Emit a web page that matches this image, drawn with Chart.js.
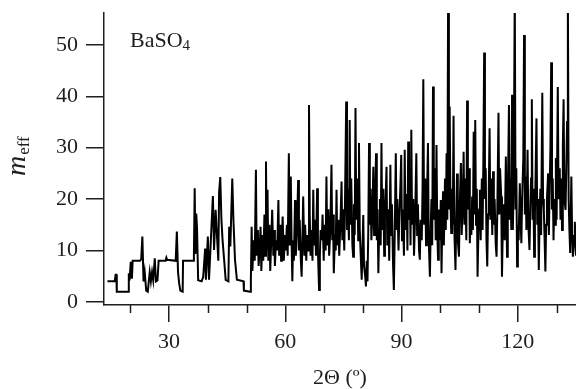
<!DOCTYPE html>
<html>
<head>
<meta charset="utf-8">
<script src="https://cdn.jsdelivr.net/npm/chart.js@4/dist/chart.umd.min.js"></script>
<style>
  html, body { margin: 0; padding: 0; background: #fff; }
  canvas { display: block; }
</style>
</head>
<body>
<canvas id="chart" width="576" height="389"></canvas>
<script>
// low-angle part of the trace: step-like m_eff vs 2-theta
const lowTheta = [
  14.1, 15.8, 16.0, 16.2, 16.4, 16.5, 19.5, 19.6, 19.8, 20.1,
  20.4, 20.6, 22.5, 22.8, 23.1, 23.4, 23.7, 24.1, 24.5, 25.0,
  25.3, 25.6, 25.9, 26.3, 26.6, 27.0, 27.3, 29.1, 29.3, 29.5,
  31.7, 32.0, 32.3, 32.6, 32.9, 33.5, 33.6, 36.2, 36.4, 36.6,
  36.8, 37.0, 37.2, 37.5, 38.4, 38.8, 39.3, 39.5, 40.0, 40.3,
  40.7, 41.3, 41.6, 42.0, 42.3, 42.7, 42.9, 43.2, 43.5, 43.8,
  44.2, 44.6, 45.3, 45.5, 45.8, 46.3, 46.6, 47.0, 47.5, 49.2,
  49.3, 50.9, 51.1, 51.3
];
const lowMeff = [
  4, 4, 4.2, 5.3, 5.3, 2, 2, 5.6, 4.2, 7.8,
  4.5, 8, 8, 8.3, 12.7, 4, 5.8, 2.2, 2, 5.8,
  4, 5.8, 4.2, 8.5, 4, 4.2, 8, 8, 8.6, 8.2,
  8, 13.7, 5.8, 3.6, 2.2, 2, 8, 8, 9.3, 22.1,
  9.3, 17.2, 14.5, 4.2, 4, 4.9, 10.4, 4.3, 12.7, 4.3,
  10.8, 20.6, 10.1, 17.9, 13.6, 8, 21.3, 24.3, 16, 12,
  8.2, 4.3, 4, 14.6, 10.8, 24, 16, 8.2, 4.3, 4,
  2.2, 2, 4.3, 14.6
];

// high-angle part: dense reflections
const highTheta = [
  51.5, 51.8, 52.1, 52.4, 52.6, 52.9, 53.1, 53.4, 53.6, 53.8,
  54.1, 54.3, 54.6, 54.8, 55.0, 55.2, 55.4, 55.6, 55.9, 56.1,
  56.4, 56.6, 56.9, 57.1, 57.3, 57.6, 57.9, 58.2, 58.4, 58.7,
  58.9, 59.1, 59.3, 59.6, 59.9, 60.1, 60.4, 60.6, 60.9, 61.1,
  61.4, 61.6, 61.8, 62.0, 62.2, 62.5, 62.7, 63.0, 63.3, 63.5,
  63.7, 64.0, 64.2, 64.4, 64.6, 64.9, 65.1, 65.4, 65.6, 65.9,
  66.1, 66.3, 66.5, 66.8, 67.0, 67.2, 67.4, 67.7, 67.9, 68.2,
  68.4, 68.7, 68.9, 69.1, 69.4, 69.6, 69.9, 70.1, 70.4, 70.6,
  70.8, 71.1, 71.3, 71.6, 71.9, 72.1, 72.3, 72.5, 72.8, 73.0,
  73.2, 73.4, 73.7, 73.9, 74.2, 74.5, 74.7, 74.9, 75.2, 75.4,
  75.7, 75.9, 76.1, 76.4, 76.6, 76.8, 77.0, 77.3, 77.5, 77.7,
  77.9, 78.1, 78.3, 78.6, 78.8, 79.0, 79.2, 79.5, 79.7, 79.9,
  80.1, 80.3, 80.6, 80.8, 81.0, 81.2, 81.4, 81.6, 81.8, 82.0,
  82.2, 82.5, 82.7, 82.9, 83.1, 83.4, 83.6, 83.8, 84.0, 84.2,
  84.4, 84.6, 84.8, 85.0, 85.3, 85.5, 85.7, 85.9, 86.1, 86.3,
  86.6, 86.8, 87.1, 87.3, 87.5, 87.8, 88.0, 88.2, 88.5, 88.7,
  88.9, 89.2, 89.4, 89.7, 89.9, 90.1, 90.3, 90.6, 90.8, 91.0,
  91.3, 91.5, 91.7, 91.9, 92.1, 92.3, 92.5, 92.7, 93.0, 93.2,
  93.5, 93.8, 94.0, 94.2, 94.5, 94.7, 94.9, 95.2, 95.4, 95.6,
  95.8, 96.1, 96.3, 96.5, 96.8, 97.0, 97.3, 97.5, 97.7, 97.9,
  98.1, 98.3, 98.6, 98.8, 99.0, 99.2, 99.4, 99.6, 99.9, 100.1,
  100.3, 100.5, 100.7, 100.9, 101.2, 101.4, 101.6, 101.8, 102.0, 102.2,
  102.4, 102.6, 102.8, 103.0, 103.2, 103.4, 103.6, 103.9, 104.1, 104.3,
  104.5, 104.8, 105.0, 105.3, 105.5, 105.8, 106.0, 106.2, 106.4, 106.7,
  106.9, 107.1, 107.4, 107.6, 107.8, 108.0, 108.2, 108.4, 108.6, 108.8,
  109.0, 109.2, 109.4, 109.6, 109.8, 110.0, 110.2, 110.4, 110.7, 110.9,
  111.1, 111.3, 111.5, 111.7, 111.9, 112.1, 112.3, 112.5, 112.7, 112.9,
  113.1, 113.4, 113.6, 113.8, 114.0, 114.3, 114.5, 114.7, 115.0, 115.2,
  115.4, 115.7, 115.9, 116.1, 116.4, 116.6, 116.9, 117.2, 117.4, 117.7,
  117.9, 118.1, 118.3, 118.5, 118.7, 118.9, 119.2, 119.4, 119.6, 119.8,
  120.0, 120.2, 120.5, 120.7, 120.9, 121.1, 121.4, 121.6, 121.8, 122.0,
  122.2, 122.5, 122.7, 123.0, 123.2, 123.4, 123.6, 123.8, 124.0, 124.2,
  124.4, 124.6, 124.8, 125.0, 125.2, 125.4, 125.6, 125.8, 126.0, 126.3,
  126.5, 126.7, 126.9, 127.1, 127.3, 127.5, 127.8, 128.0, 128.2, 128.4,
  128.6, 128.8, 129.0, 129.2, 129.4, 129.6, 129.8, 130.0, 130.3, 130.5,
  130.8, 131.0, 131.2, 131.4, 131.6, 131.8, 132.0, 132.3, 132.5, 132.7,
  132.9, 133.1, 133.3, 133.5, 133.8, 134.0, 134.2, 134.5, 134.7, 135.0
];
const highMeff = [
  6, 12, 8, 25.7, 9, 14, 7, 11, 14.6, 6,
  13, 8, 17, 9, 27.3, 10, 21.8, 8, 15, 6,
  13, 17.9, 9, 14, 7, 12, 10, 19.8, 9, 15,
  8, 12, 16.6, 8, 13, 10, 15, 9, 28.9, 11,
  24.4, 12, 4, 12, 8, 19.8, 9, 14, 23.7, 10,
  16, 8, 4.9, 12, 20.5, 9, 15, 8, 13, 10,
  38.3, 16.6, 9, 14, 8, 21.8, 11, 16, 9, 22.1,
  10, 2.3, 9, 14, 12, 17, 8, 15, 10, 24.4,
  11, 18, 9, 14, 26.7, 12, 17, 5.6, 13, 10,
  21.8, 11, 16, 9, 15, 23.4, 12, 18, 10, 20,
  39, 14, 22, 12, 35.4, 15, 24, 11, 8.8, 19,
  13, 37.7, 16, 24, 12, 30.9, 14, 8, 4.3, 10,
  16.9, 7, 5, 3, 8, 4, 14, 30.9, 15, 22,
  12, 18, 26.3, 13, 18, 28.9, 12, 18, 5.6, 14,
  20, 11, 30.9, 14, 22, 9, 17, 20.5, 26.3, 11,
  18, 8, 26.7, 13, 19, 7, 2.3, 12, 28.9, 14,
  20, 10, 16, 23.1, 28.6, 12, 18, 9, 29.6, 14,
  21, 10, 31.2, 16, 24, 11, 33.5, 15, 20, 9,
  17, 28.9, 13, 19, 10, 8.2, 16, 12, 22, 43.3,
  15, 24, 11, 18, 30.9, 12, 4.9, 14, 20, 11,
  41.9, 16, 26, 12, 30.5, 14, 8.2, 18, 12, 19.8,
  5.6, 16, 21.5, 11, 24, 14, 28.9, 16, 60, 18,
  38, 20, 13.4, 22, 15, 36.2, 14, 6.2, 16, 25,
  12, 8.8, 19, 27, 13, 20, 29.2, 15, 24, 12,
  39.2, 18, 26, 11.4, 17, 13, 20.5, 14, 33.1, 17,
  35.4, 15, 22, 4.9, 13, 18, 21.8, 12, 24, 14,
  28, 48.5, 20, 26, 12, 6.9, 17, 22, 33.8, 16,
  24, 13, 25.4, 15, 20, 11, 8.8, 18, 36.8, 17,
  26, 20.5, 4.9, 14, 19, 12, 28.3, 8.8, 20, 38.3,
  16, 24, 14, 40.3, 14, 22, 60, 18, 26, 6.9,
  15, 12, 23.1, 16, 11.4, 20, 28, 51.9, 17, 24.4,
  14, 29.6, 15, 10.1, 18, 24, 39.4, 16, 22, 8.8,
  17, 26, 35.7, 15, 20, 6.2, 16, 22, 13, 40.7,
  20, 17.9, 12, 5.9, 15, 20, 25, 13, 22, 30,
  46.6, 18, 24, 12, 20, 15, 28, 16, 41.8, 20,
  26, 16, 24, 14, 30, 39.4, 20, 17.9, 26, 35,
  60, 20, 14, 9.5, 24.4, 13, 8.8, 12, 15.6, 9
];

const xTicksMajor = [30, 60, 90, 120];

const twoTheta = lowTheta.concat(highTheta);
const mEff = lowMeff.concat(highMeff);
const points = twoTheta.map((t, i) => ({ x: t, y: mEff[i] }));

const serif = '"Liberation Serif", "Times New Roman", serif';
const ink = '#1e1e1e';

Chart.defaults.font.family = serif;

// short minor ticks on x, the y-axis title with subscript and the compound label
const extras = {
  id: 'extras',
  afterDraw(chart) {
    const { ctx, chartArea, scales } = chart;
    const x = scales.x;
    ctx.save();
    ctx.strokeStyle = ink;
    ctx.lineWidth = 1.5;
    x.ticks.forEach(t => {
      if (xTicksMajor.includes(t.value)) return;
      const px = Math.round(x.getPixelForValue(t.value)) + 0.5;
      ctx.beginPath();
      ctx.moveTo(px, chartArea.bottom);
      ctx.lineTo(px, chartArea.bottom + 8);
      ctx.stroke();
    });

    ctx.fillStyle = ink;
    ctx.textBaseline = 'alphabetic';
    ctx.textAlign = 'left';
    const lx = chartArea.left + 26;
    const ly = chartArea.top + 34;
    ctx.font = '22px ' + serif;
    ctx.fillText('BaSO', lx, ly);
    const w = ctx.measureText('BaSO').width;
    ctx.font = '15px ' + serif;
    ctx.fillText('4', lx + w, ly + 3);

    ctx.translate(25, 176);
    ctx.rotate(-Math.PI / 2);
    ctx.font = 'italic 28px ' + serif;
    ctx.fillText('m', 0, 0);
    const wm = ctx.measureText('m').width;
    ctx.font = '17px ' + serif;
    ctx.fillText('eff', wm + 1, 4);
    ctx.restore();
  }
};

new Chart(document.getElementById('chart'), {
  type: 'line',
  data: {
    datasets: [{
      data: points,
      borderColor: '#000',
      borderWidth: 2,
      pointRadius: 0,
      tension: 0,
      fill: false
    }]
  },
  options: {
    responsive: false,
    animation: false,
    layout: { padding: { top: 13, right: 0, bottom: 0, left: 0 } },
    plugins: {
      legend: { display: false },
      tooltip: { enabled: false }
    },
    scales: {
      x: {
        type: 'linear',
        min: 13.2,
        max: 135,
        afterFit: s => { s.height = 84; s.paddingLeft = 0; s.paddingRight = 0; },
        ticks: {
          stepSize: 10,
          includeBounds: false,
          autoSkip: false,
          maxRotation: 0,
          padding: 7,
          color: ink,
          font: { size: 22 },
          callback: v => xTicksMajor.includes(v) ? v : ''
        },
        grid: {
          drawOnChartArea: false,
          tickLength: 17,
          lineWidth: 1.5,
          color: c => (c.tick && xTicksMajor.includes(c.tick.value)) ? ink : 'rgba(0,0,0,0)'
        },
        border: { display: true, color: ink, width: 1.5 },
        title: {
          display: true,
          text: '2Θ (º)',
          color: ink,
          font: { size: 22, lineHeight: 1.0 },
          padding: 0
        }
      },
      y: {
        min: -0.6,
        max: 56.2,
        afterFit: s => { s.width = 104; s.paddingTop = 0; s.paddingBottom = 0; },
        ticks: {
          stepSize: 10,
          includeBounds: false,
          padding: 8,
          color: ink,
          font: { size: 22 }
        },
        grid: {
          drawOnChartArea: false,
          tickLength: 18,
          lineWidth: 1.5,
          color: ink
        },
        border: { display: true, color: ink, width: 1.5 }
      }
    }
  },
  plugins: [extras]
});
</script>
</body>
</html>
